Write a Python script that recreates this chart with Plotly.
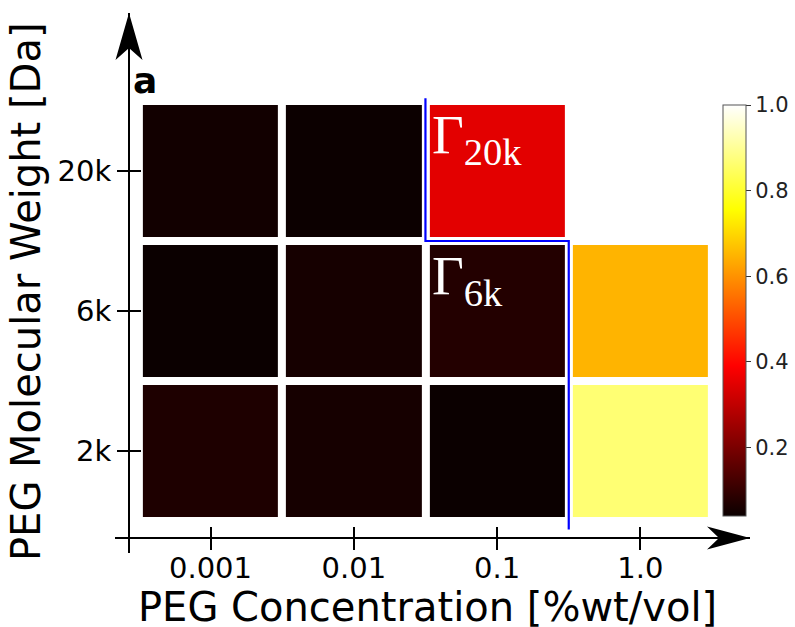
import plotly.graph_objects as go

# ---- data ----
concentrations = ["0.001", "0.01", "0.1", "1.0"]
weights = ["2k", "6k", "20k"]
vals_2k = [0.068, 0.056, 0.040, 0.866]
vals_6k = [0.040, 0.056, 0.075, 0.649]
vals_20k = [0.050, 0.042, 0.350, None]
cbar_ticks = [0.2, 0.4, 0.6, 0.8, 1.0]
cmin, cmax = 0.04, 1.0

z = [vals_2k, vals_6k, vals_20k]
xi = list(range(len(concentrations)))
yi = list(range(len(weights)))

# matplotlib "hot" colormap
hot = [[0.0, "rgb(10.6,0,0)"], [0.365079, "rgb(255,0,0)"],
       [0.746032, "rgb(255,255,0)"], [1.0, "rgb(255,255,255)"]]

# layout geometry (pixels)
W, H = 795, 627
L, R, T, B = 115, 45, 13, 74
xr = [-0.6664, 3.7648]
yr = [-0.7286, 3.1286]
xpos = (553 - 538) / 540.0
ypos = (129 - 115) / 635.0

fig = go.Figure()
fig.add_trace(go.Heatmap(
    x=xi, y=yi, z=z, zmin=cmin, zmax=cmax, colorscale=hot,
    xgap=8, ygap=8, hoverongaps=False,
    colorbar=dict(
        x=(723 - L) / 635.0, xanchor="left", xpad=0,
        y=(553 - 310.5) / 540.0, yanchor="middle", ypad=0,
        lenmode="pixels", len=411, thickness=23,
        outlinewidth=1, outlinecolor="#555555",
        tickvals=cbar_ticks, ticktext=[f"{t:.1f}" for t in cbar_ticks],
        ticks="outside", ticklen=5, tickwidth=1, tickcolor="#333333",
        tickfont=dict(family="DejaVu Sans", size=21, color="#222222"),
    ),
))

# boundary line (between category cells)
bx = [1.5, 1.5, 2.5, 2.5]
by = [2.52, 1.5, 1.5, -0.56]
fig.add_trace(go.Scatter(x=bx, y=by, mode="lines",
                         line=dict(color="#0000ff", width=2.2),
                         hoverinfo="skip", showlegend=False))

# dummy trace for the overlay axes (inner half of ticks)
fig.add_trace(go.Scatter(x=[None], y=[None], xaxis="x2", yaxis="y2",
                         showlegend=False, hoverinfo="skip"))

axfont = dict(family="DejaVu Sans", size=29, color="black")
fig.update_layout(
    width=W, height=H, margin=dict(l=L, r=R, t=T, b=B, autoexpand=False),
    paper_bgcolor="white", plot_bgcolor="white", showlegend=False,
    xaxis=dict(range=xr, anchor="free", position=xpos, showline=True,
               linewidth=2, linecolor="black", ticks="outside", ticklen=11,
               tickwidth=2, tickcolor="black", tickvals=xi,
               ticktext=concentrations, tickfont=axfont, ticklabelstandoff=-7,
               showgrid=False, zeroline=False, fixedrange=True),
    yaxis=dict(range=yr, anchor="free", position=ypos, showline=True,
               linewidth=2, linecolor="black", ticks="outside", ticklen=11,
               tickwidth=2, tickcolor="black", tickvals=yi,
               ticktext=weights, tickfont=axfont,
               showgrid=False, zeroline=False, fixedrange=True),
    xaxis2=dict(range=xr, overlaying="x", anchor="free", position=xpos,
                ticks="inside", ticklen=11, tickwidth=2, tickcolor="black",
                tickvals=xi, showticklabels=False, showline=False,
                showgrid=False, zeroline=False),
    yaxis2=dict(range=yr, overlaying="y", anchor="free", position=ypos,
                ticks="inside", ticklen=11, tickwidth=2, tickcolor="black",
                tickvals=yi, showticklabels=False, showline=False,
                showgrid=False, zeroline=False),
)

# arrow heads on axes
fig.add_shape(type="path", xref="x", yref="paper", xsizemode="pixel",
              ysizemode="pixel", xanchor=xr[1], yanchor=xpos,
              path="M0,0 L-43,11.5 L-31,0 L-43,-11.5 Z",
              fillcolor="black", line=dict(width=0))
fig.add_shape(type="path", xref="paper", yref="y", xsizemode="pixel",
              ysizemode="pixel", xanchor=ypos, yanchor=yr[1],
              path="M0,0 L-13.5,-47 L0,-35 L13.5,-47 Z",
              fillcolor="black", line=dict(width=0))

# titles
fig.add_annotation(text="PEG Concentration [%wt/vol]", xref="paper", yref="paper",
                   x=(427.5 - L) / 635.0, y=(553 - 607) / 540.0,
                   xanchor="center", yanchor="middle", showarrow=False,
                   font=dict(family="DejaVu Sans", size=40, color="black"))
fig.add_annotation(text="PEG Molecular Weight [Da]", xref="paper", yref="paper",
                   x=(26 - L) / 635.0, y=(553 - 292) / 540.0, textangle=-90,
                   xanchor="center", yanchor="middle", showarrow=False,
                   font=dict(family="DejaVu Sans", size=40, color="black"))
fig.add_annotation(text="<b>a</b>", xref="paper", yref="paper",
                   x=(131 - L) / 635.0, y=(553 - 80) / 540.0,
                   xanchor="left", yanchor="middle", showarrow=False,
                   font=dict(family="DejaVu Sans", size=36, color="black"))

# cell labels
gfont = dict(family="Liberation Serif", size=55, color="white")
fig.add_annotation(text="Γ<sub>20k</sub>", x=1.53, y=2.235, xref="x", yref="y",
                   xanchor="left", yanchor="middle", showarrow=False, font=gfont)
fig.add_annotation(text="Γ<sub>6k</sub>", x=1.53, y=1.228, xref="x", yref="y",
                   xanchor="left", yanchor="middle", showarrow=False, font=gfont)

fig.write_html("out.html")
